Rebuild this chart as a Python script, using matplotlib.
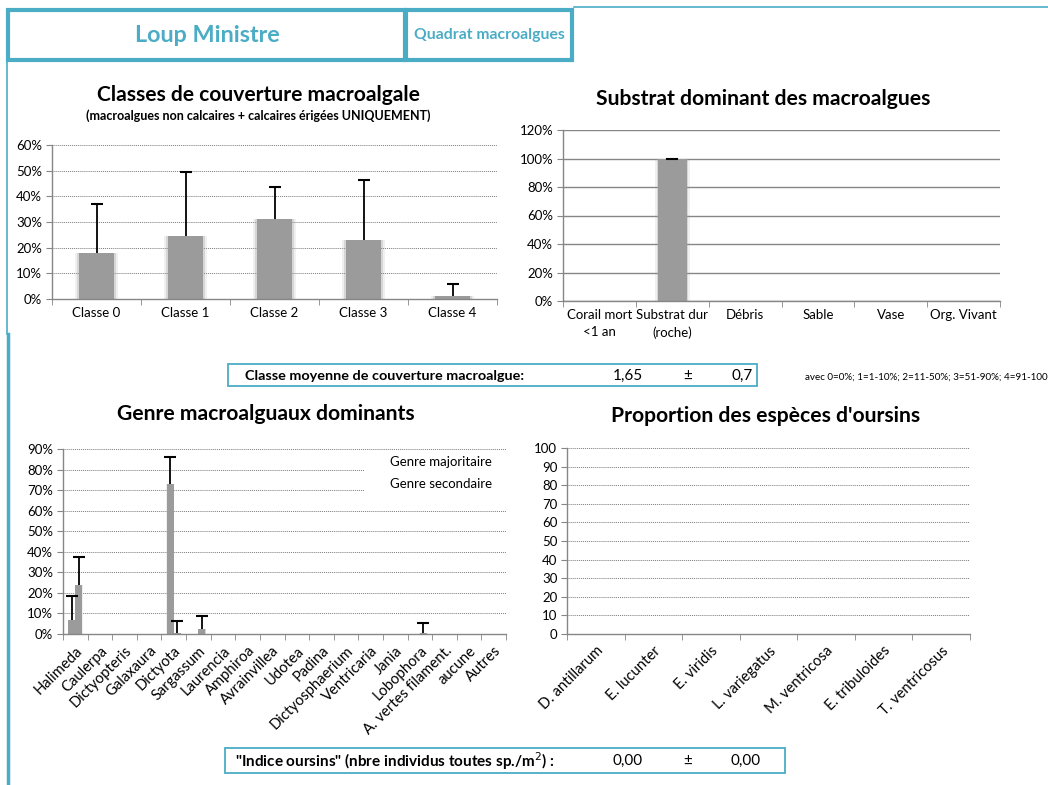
import matplotlib
matplotlib.use("Agg")
import matplotlib.pyplot as plt
from matplotlib.patches import Rectangle
from matplotlib.lines import Line2D
from matplotlib.ticker import PercentFormatter
import numpy as np

W, H = 1048, 785
BLUE = "#4bacc6"
BAR = "#9b9b9b"
AXIS = "#868686"

plt.rcParams["font.family"] = ["Lato", "DejaVu Sans"]

# couverture macroalgale par classe
classes = ["Classe 0", "Classe 1", "Classe 2", "Classe 3", "Classe 4"]
class_cover = [0.18, 0.245, 0.31, 0.23, 0.01]
class_err = [0.19, 0.25, 0.125, 0.235, 0.05]

# substrat dominant
substrates = ["Corail mort\n<1 an", "Substrat dur\n(roche)", "Débris", "Sable",
              "Vase", "Org. Vivant"]
substrate_share = [0.0, 1.0, 0.0, 0.0, 0.0, 0.0]
substrate_err = [0.0, 0.0, 0.0, 0.0, 0.0, 0.0]

# genres dominants
genera = ["Halimeda", "Caulerpa", "Dictyopteris", "Galaxaura", "Dictyota",
          "Sargassum", "Laurencia", "Amphiroa", "Avrainvillea", "Udotea", "Padina",
          "Dictyosphaerium", "Ventricaria", "Jania", "Lobophora",
          "A. vertes filament.", "aucune", "Autres"]
genus_main = [0.07, 0, 0, 0, 0.73, 0, 0, 0, 0, 0, 0, 0, 0, 0, 0, 0, 0, 0]
genus_main_err = [0.115, 0, 0, 0, 0.13, 0, 0, 0, 0, 0, 0, 0, 0, 0, 0, 0, 0, 0]
genus_second = [0.24, 0, 0, 0, 0.005, 0.025, 0, 0, 0, 0, 0, 0, 0, 0, 0.005, 0, 0, 0]
genus_second_err = [0.135, 0, 0, 0, 0.058, 0.064, 0, 0, 0, 0, 0, 0, 0, 0, 0.05, 0, 0, 0]

# oursins
urchins = ["D. antillarum", "E. lucunter", "E. viridis", "L. variegatus",
           "M. ventricosa", "E. tribuloides", "T. ventricosus"]
urchin_share = [0, 0, 0, 0, 0, 0, 0]

mean_class, mean_class_sd = 1.65, 0.7
urchin_index, urchin_index_sd = 0.00, 0.00


def fr(v, nd):
    return f"{v:.{nd}f}".replace(".", ",")


def px_axes(fig, x0, y0, x1, y1):
    return fig.add_axes([x0 / W, 1 - y1 / H, (x1 - x0) / W, (y1 - y0) / H])


def style_axes(ax, n, grid_style="dotted"):
    for side in ("top", "right"):
        ax.spines[side].set_visible(False)
    for side in ("left", "bottom"):
        ax.spines[side].set_color(AXIS)
        ax.spines[side].set_linewidth(1)
    ax.set_xlim(-0.5, n - 0.5)
    ax.set_xticks(np.arange(n))
    ax.set_xticks(np.arange(n + 1) - 0.5, minor=True)
    ax.tick_params(axis="x", which="major", length=0, pad=6)
    ax.tick_params(axis="x", which="minor", length=4, color=AXIS)
    ax.tick_params(axis="y", length=4, color=AXIS, labelsize=9.5, pad=3)
    ax.set_axisbelow(True)
    if grid_style == "dotted":
        ax.yaxis.grid(True, linestyle=(0, (1, 1)), color="#7a7a7a", linewidth=0.7)
    else:
        ax.yaxis.grid(True, linestyle="-", color=AXIS, linewidth=1)


def soft_bars(ax, x, h, w):
    x = np.asarray(x, float)
    h = np.asarray(h, float)
    ax.bar(x, h, w * 1.2, color=BAR, alpha=0.15, linewidth=0, zorder=2)
    ax.bar(x, h, w * 1.08, color=BAR, alpha=0.3, linewidth=0, zorder=2)
    ax.bar(x, h, w, color=BAR, linewidth=0, zorder=2)


def up_errors(ax, x, h, err, show):
    # plus-only error bars with a single cap on top
    x = np.asarray(x, float)[show]
    h = np.asarray(h, float)[show]
    err = np.asarray(err, float)[show]
    ax.vlines(x, h, h + err, color="black", linewidth=1.3, zorder=3)
    ax.plot(x, h + err, linestyle="none", marker="_", markersize=9,
            markeredgewidth=1.5, color="black", zorder=3)


fig = plt.figure(figsize=(W / 100, H / 100), dpi=100)

# en-tete
fig.add_artist(Rectangle((8 / W, 1 - 60 / H), 397 / W, 50 / H, transform=fig.transFigure,
                         fill=False, edgecolor=BLUE, linewidth=3))
fig.add_artist(Rectangle((406 / W, 1 - 60 / H), 166 / W, 50 / H, transform=fig.transFigure,
                         fill=False, edgecolor=BLUE, linewidth=3))
fig.text(207 / W, 1 - 36 / H, "Loup Ministre", ha="center", va="center",
         fontsize=16.8, fontweight="bold", color=BLUE)
fig.text(489 / W, 1 - 35 / H, "Quadrat macroalgues", ha="center", va="center",
         fontsize=11.3, fontweight="bold", color=BLUE)
fig.add_artist(Line2D([574 / W, 1], [1 - 7 / H, 1 - 7 / H], transform=fig.transFigure,
                      color=BLUE, linewidth=1.2))
fig.add_artist(Line2D([7 / W, 7 / W], [1 - 61 / H, 1 - 334 / H], transform=fig.transFigure,
                      color=BLUE, linewidth=1.2))
fig.add_artist(Line2D([8 / W, 8 / W], [1 - 334 / H, 0], transform=fig.transFigure,
                      color=BLUE, linewidth=2.5))

# classes de couverture
ax1 = px_axes(fig, 52, 145, 497, 299)
style_axes(ax1, len(classes))
xc = np.arange(len(classes))
soft_bars(ax1, xc, class_cover, 0.4)
up_errors(ax1, xc, class_cover, class_err, np.ones(len(classes), bool))
ax1.set_ylim(0, 0.6)
ax1.set_yticks(np.arange(0, 0.61, 0.1))
ax1.yaxis.set_major_formatter(PercentFormatter(1, decimals=0))
ax1.set_xticklabels(classes, fontsize=9.5)
fig.text(258 / W, 1 - 95 / H, "Classes de couverture macroalgale", ha="center",
         va="center", fontsize=15.1, fontweight="bold")
fig.text(258 / W, 1 - 116 / H, "(macroalgues non calcaires + calcaires érigées UNIQUEMENT)",
         ha="center", va="center", fontsize=9, fontweight="bold")

# substrat dominant
ax2 = px_axes(fig, 563, 130, 1000, 301)
style_axes(ax2, len(substrates), grid_style="solid")
xs = np.arange(len(substrates))
soft_bars(ax2, xs, substrate_share, 0.4)
up_errors(ax2, xs, substrate_share, substrate_err, np.asarray(substrate_share) > 0)
ax2.set_ylim(0, 1.2)
ax2.set_yticks(np.arange(0, 1.21, 0.2))
ax2.yaxis.set_major_formatter(PercentFormatter(1, decimals=0))
ax2.set_xticklabels(substrates, fontsize=9.5, linespacing=1.45)
fig.text(763 / W, 1 - 99 / H, "Substrat dominant des macroalgues", ha="center",
         va="center", fontsize=15.2, fontweight="bold")

# classe moyenne
fig.add_artist(Rectangle((228 / W, 1 - 386 / H), 529 / W, 22 / H, transform=fig.transFigure,
                         fill=False, edgecolor=BLUE, linewidth=1.3))
fig.text(245 / W, 1 - 375.5 / H, "Classe moyenne de couverture macroalgue:", ha="left",
         va="center", fontsize=10.4, fontweight="bold")
fig.text(628 / W, 1 - 375.5 / H, fr(mean_class, 2), ha="center", va="center", fontsize=11)
fig.text(688 / W, 1 - 375.5 / H, "±", ha="center", va="center", fontsize=11)
fig.text(742 / W, 1 - 375.5 / H, fr(mean_class_sd, 1), ha="center", va="center", fontsize=11)
fig.text(805 / W, 1 - 377 / H, "avec 0=0%; 1=1-10%; 2=11-50%; 3=51-90%; 4=91-100",
         ha="left", va="center", fontsize=7.1)

# genres dominants
ax3 = px_axes(fig, 63, 449, 506, 634)
style_axes(ax3, len(genera))
xg = np.arange(len(genera))
bw = 0.28
soft_bars(ax3, xg - bw / 2, genus_main, bw)
soft_bars(ax3, xg + bw / 2, genus_second, bw)
up_errors(ax3, xg - bw / 2, genus_main, genus_main_err, np.asarray(genus_main_err) > 0)
up_errors(ax3, xg + bw / 2, genus_second, genus_second_err, np.asarray(genus_second_err) > 0)
ax3.set_ylim(0, 0.9)
ax3.set_yticks(np.arange(0, 0.91, 0.1))
ax3.yaxis.set_major_formatter(PercentFormatter(1, decimals=0))
ax3.set_xticklabels(genera, fontsize=10.6, rotation=45, ha="right", rotation_mode="anchor")
ax3.tick_params(axis="x", which="major", pad=7)
ax3.add_patch(Rectangle((0.68, 0.76), 0.32, 0.225, transform=ax3.transAxes,
                        facecolor="white", edgecolor="none", zorder=1))
ax3.text(0.968, 0.93, "Genre majoritaire", transform=ax3.transAxes, ha="right",
         va="center", fontsize=9.5, zorder=4)
ax3.text(0.968, 0.81, "Genre secondaire", transform=ax3.transAxes, ha="right",
         va="center", fontsize=9.5, zorder=4)
fig.text(266 / W, 1 - 414 / H, "Genre macroalguaux dominants", ha="center",
         va="center", fontsize=15.2, fontweight="bold")

# especes d'oursins
ax4 = px_axes(fig, 567, 448, 970, 634)
style_axes(ax4, len(urchins))
xu = np.arange(len(urchins))
soft_bars(ax4, xu, urchin_share, 0.4)
ax4.set_ylim(0, 100)
ax4.set_yticks(np.arange(0, 101, 10))
ax4.set_xticklabels(urchins, fontsize=10.6, rotation=45, ha="right", rotation_mode="anchor")
ax4.tick_params(axis="x", which="major", pad=7)
fig.text(766 / W, 1 - 416 / H, "Proportion des espèces d'oursins", ha="center",
         va="center", fontsize=15.2, fontweight="bold")

# indice oursins
fig.add_artist(Rectangle((225 / W, 1 - 773 / H), 560 / W, 25 / H, transform=fig.transFigure,
                         fill=False, edgecolor=BLUE, linewidth=1.3))
fig.text(235 / W, 1 - 761 / H, "\"Indice oursins\" (nbre individus toutes sp./m$^2$) :",
         ha="left", va="center", fontsize=11, fontweight="bold")
fig.text(628 / W, 1 - 761 / H, fr(urchin_index, 2), ha="center", va="center", fontsize=11)
fig.text(688 / W, 1 - 761 / H, "±", ha="center", va="center", fontsize=11)
fig.text(746 / W, 1 - 761 / H, fr(urchin_index_sd, 2), ha="center", va="center", fontsize=11)

fig.savefig("out.png", dpi=100)
